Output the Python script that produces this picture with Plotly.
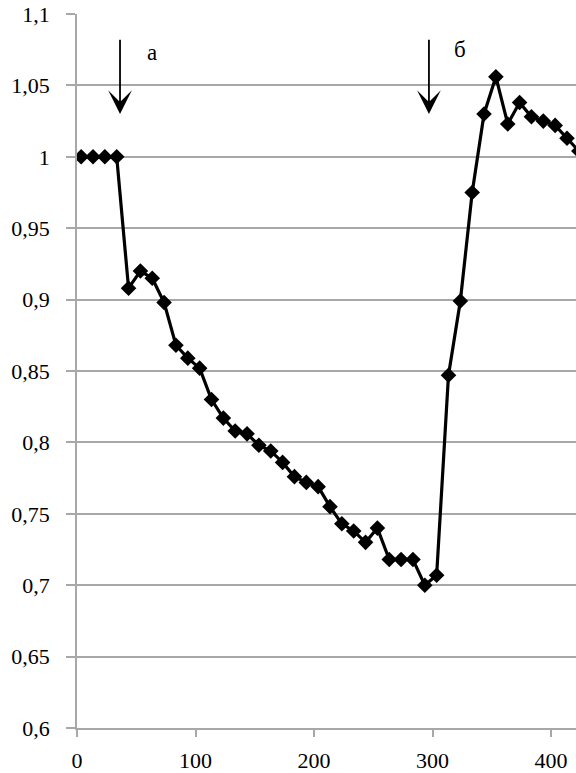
import plotly.graph_objects as go

# data
x_vals = [3.5, 13.5, 23.5, 33.5, 43.5, 53.5, 63.5, 73.5, 83.5, 93.5,
          103.5, 113.5, 123.5, 133.5, 143.5, 153.5, 163.5, 173.5, 183.5, 193.5,
          203.5, 213.5, 223.5, 233.5, 243.5, 253.5, 263.5, 273.5, 283.5, 293.5,
          303.5, 313.5, 323.5, 333.5, 343.5, 353.5, 363.5, 373.5, 383.5, 393.5,
          403.5, 413.5, 423.5]
y_vals = [1.000, 1.000, 1.000, 1.000, 0.908, 0.920, 0.915, 0.898, 0.868, 0.859,
          0.852, 0.830, 0.817, 0.808, 0.806, 0.798, 0.794, 0.786, 0.776, 0.772,
          0.769, 0.755, 0.743, 0.738, 0.730, 0.740, 0.718, 0.718, 0.718, 0.700,
          0.707, 0.847, 0.899, 0.975, 1.030, 1.056, 1.023, 1.038, 1.028, 1.025,
          1.022, 1.013, 1.004]

x_tick_vals = [0, 100, 200, 300, 400]
x_tick_labels = ["0", "100", "200", "300", "400"]
y_tick_vals = [0.6, 0.65, 0.7, 0.75, 0.8, 0.85, 0.9, 0.95, 1.0, 1.05, 1.1]
y_tick_labels = ["0,6", "0,65", "0,7", "0,75", "0,8", "0,85", "0,9", "0,95", "1", "1,05", "1,1"]

# arrow markers: label, x position, tail y, tip y, label x, label y
arrow_labels = ["а", "б"]
arrow_x = [36.3, 297.0]
arrow_tail_y = [1.083, 1.083]
arrow_tip_y = [1.030, 1.030]
label_x = [63.5, 323.0]
label_y = [1.073, 1.075]

FONT = "Liberation Serif"
GRID = "#a8a8a8"

fig = go.Figure()
fig.add_trace(go.Scatter(
    x=x_vals, y=y_vals, mode="lines+markers",
    line=dict(color="black", width=3.2),
    marker=dict(symbol="diamond", size=12, color="black"),
    showlegend=False, hoverinfo="skip",
))

annotations = []
for i in range(len(arrow_labels)):
    annotations.append(dict(
        x=arrow_x[i], y=arrow_tip_y[i], ax=arrow_x[i], ay=arrow_tail_y[i],
        xref="x", yref="y", axref="x", ayref="y",
        text="", showarrow=True, arrowhead=3, arrowsize=2.2, arrowwidth=1.8,
        arrowcolor="black",
    ))
    annotations.append(dict(
        x=label_x[i], y=label_y[i], xref="x", yref="y",
        text=arrow_labels[i], showarrow=False,
        font=dict(family=FONT, size=23, color="black"),
    ))

fig.update_layout(
    width=576, height=773,
    margin=dict(l=77, r=0, t=14, b=45),
    paper_bgcolor="white", plot_bgcolor="white",
    font=dict(family=FONT, size=22, color="black"),
    annotations=annotations,
    xaxis=dict(
        range=[0, 421.1], tickvals=x_tick_vals, ticktext=x_tick_labels,
        showgrid=False, zeroline=False, automargin=False,
        showline=True, linecolor=GRID, linewidth=1.5,
        ticks="outside", ticklen=7, tickcolor=GRID, tickwidth=1.5,
        ticklabelstandoff=5,
        tickfont=dict(family=FONT, size=22, color="black"),
    ),
    yaxis=dict(
        range=[0.6, 1.1], tickvals=y_tick_vals, ticktext=y_tick_labels,
        showgrid=True, gridcolor=GRID, gridwidth=1.5, zeroline=False,
        automargin=False,
        showline=True, linecolor=GRID, linewidth=1.5,
        ticks="outside", ticklen=9, tickcolor=GRID, tickwidth=1.5,
        ticklabelstandoff=12,
        tickfont=dict(family=FONT, size=22, color="black"),
    ),
)

fig.write_html("out.html")
